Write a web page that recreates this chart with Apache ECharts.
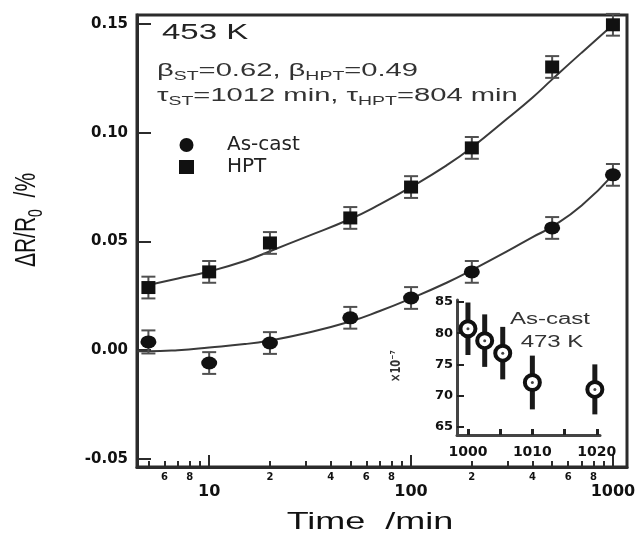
<!DOCTYPE html>
<html><head><meta charset="utf-8">
<script src="https://cdn.jsdelivr.net/npm/echarts@6/dist/echarts.min.js"></script>
<style>html,body{margin:0;padding:0;background:#fff}#c{width:642px;height:534px}</style>
</head><body><div id="c"></div>
<script>
// ---- main data (time in min, ΔR/R0 in %) ----
const times = [5, 10, 20, 50, 100, 200, 500, 1000];
const asCast = [0.0038, -0.0059, 0.0033, 0.0149, 0.0240, 0.0360, 0.0562, 0.0806];
const hpt = [0.0288, 0.0360, 0.0493, 0.0608, 0.0750, 0.0930, 0.1302, 0.1496];
const errAsCast = [0.0053, 0.0050, 0.0050, 0.0050, 0.0050, 0.0050, 0.0050, 0.0050];
const errHpt = [0.0050, 0.0050, 0.0050, 0.0050, 0.0050, 0.0050, 0.0050, 0.0050];
// fitted curves
const fitTimesAsCast = [4.4, 5, 7, 10, 15, 20, 30, 50, 70, 100, 150, 200, 300, 400, 500, 700, 1000];
const fitAsCast = [-0.0005, -0.0005, 0.0000, 0.0012, 0.0028, 0.0045, 0.0078, 0.0132, 0.0180, 0.0238, 0.0310, 0.0368, 0.0455, 0.0520, 0.0568, 0.0665, 0.0806];
const fitTimesHpt = [5, 7, 10, 15, 20, 30, 50, 70, 100, 150, 200, 300, 400, 500, 700, 1000];
const fitHpt = [0.0300, 0.0330, 0.0362, 0.0410, 0.0455, 0.0520, 0.0603, 0.0670, 0.0750, 0.0850, 0.0932, 0.1065, 0.1162, 0.1245, 0.1368, 0.1496];
// axis ticks / labels
const yTicks = [-0.05, 0.00, 0.05, 0.10, 0.15];
const xMinorTicks = [5, 6, 7, 8, 9, 20, 30, 40, 50, 60, 70, 80, 90, 200, 300, 400, 500, 600, 700, 800, 900];
const xMinorLabels = [6, 8, 20, 40, 60, 80, 200, 400, 600, 800];
const xMajor = [10, 100, 1000];
// ---- inset data ----
const insetX = [1000, 1002.6, 1005.4, 1010, 1019.7];
const insetY = [80.7, 78.8, 76.8, 72.1, 71.0];
const insetErr = [4.2, 4.2, 4.2, 4.3, 4.0];
const insetXTicks = [1000, 1005, 1010, 1015, 1020];
const insetXLabels = [1000, 1010, 1020];
const insetYTicks = [65, 70, 75, 80, 85];

const X_MIN = 4.39, X_MAX = 1174;
const lg = v => Math.log10(v);
const DARK = '#2b2b2b';
const labelFont = {fontFamily: 'DejaVu Sans', fontWeight: 'bold', color: '#111'};

const chart = echarts.init(document.getElementById('c'), null, {renderer: 'canvas'});

function errRender(capW, color, lw) {
  return function (params, api) {
    const x = api.value(0), lo = api.value(2), hi = api.value(3);
    const p1 = api.coord([x, lo]), p2 = api.coord([x, hi]);
    const ch = [{type: 'line', shape: {x1: p1[0], y1: p1[1], x2: p2[0], y2: p2[1]}, style: {stroke: color, lineWidth: lw}}];
    if (capW > 0) {
      ch.push({type: 'line', shape: {x1: p1[0] - capW, y1: p1[1], x2: p1[0] + capW, y2: p1[1]}, style: {stroke: color, lineWidth: 2}});
      ch.push({type: 'line', shape: {x1: p2[0] - capW, y1: p2[1], x2: p2[0] + capW, y2: p2[1]}, style: {stroke: color, lineWidth: 2}});
    }
    return {type: 'group', children: ch};
  };
}

const gridRect = {left: 137, top: 15, width: 490, height: 452};
const subRich = (fs, sfs, color) => ({
  m: {fontSize: fs, fontFamily: 'Liberation Sans', fill: color, lineHeight: fs + 6, verticalAlign: 'middle'},
  s: {fontSize: sfs, fontFamily: 'Liberation Sans', fill: color, lineHeight: sfs - 2, verticalAlign: 'bottom'}
});

const option = {
  backgroundColor: '#fff',
  animation: false,
  grid: [
    Object.assign({show: true, borderColor: DARK, borderWidth: 3, backgroundColor: 'transparent'}, gridRect),
    Object.assign({show: false}, gridRect),
    Object.assign({show: false}, gridRect),
    {left: 457, top: 300, width: 143, height: 135, show: false}
  ],
  xAxis: [
    {type: 'log', gridIndex: 0, min: X_MIN, max: X_MAX, logBase: 10,
     axisLine: {show: true, onZero: false, lineStyle: {color: DARK, width: 3}},
     axisTick: {show: false}, axisLabel: {show: false}, splitLine: {show: false}},
    {type: 'value', gridIndex: 1, min: lg(X_MIN), max: lg(X_MAX),
     axisLine: {show: false, onZero: false}, splitLine: {show: false},
     axisTick: {show: true, inside: true, length: 6, lineStyle: {color: DARK, width: 2}, customValues: xMinorTicks.map(lg)},
     axisLabel: Object.assign({show: true, margin: 5, fontSize: 10, customValues: xMinorLabels.map(lg),
       formatter: v => { const t = Math.round(Math.pow(10, v)); return String(t / Math.pow(10, Math.floor(Math.log10(t) + 1e-9))); }}, labelFont)},
    {type: 'value', gridIndex: 2, min: lg(X_MIN), max: lg(X_MAX),
     axisLine: {show: false, onZero: false}, splitLine: {show: false},
     axisTick: {show: true, inside: true, length: 12, lineStyle: {color: DARK, width: 2}, customValues: xMajor.map(lg)},
     axisLabel: Object.assign({show: true, margin: 17, fontSize: 16, customValues: xMajor.map(lg),
       formatter: v => String(Math.round(Math.pow(10, v)))}, labelFont)},
    {type: 'value', gridIndex: 3, min: 998.3, max: 1020.5,
     axisLine: {show: true, onZero: false, lineStyle: {color: '#444', width: 3}}, splitLine: {show: false},
     axisTick: {show: true, inside: true, length: 6, lineStyle: {color: '#222', width: 3}, customValues: insetXTicks},
     axisLabel: Object.assign({show: true, margin: 10, fontSize: 14, customValues: insetXLabels,
       formatter: v => String(Math.round(v))}, labelFont)}
  ],
  yAxis: [
    {type: 'value', gridIndex: 0, min: -0.0537, max: 0.1541,
     axisLine: {show: true, onZero: false, lineStyle: {color: DARK, width: 3}}, splitLine: {show: false},
     axisTick: {show: true, inside: true, length: 14, lineStyle: {color: DARK, width: 2}, customValues: yTicks},
     axisLabel: Object.assign({show: true, margin: 9, fontSize: 15, customValues: yTicks,
       formatter: v => v.toFixed(2)}, labelFont)},
    {type: 'value', gridIndex: 1, show: false},
    {type: 'value', gridIndex: 2, show: false},
    {type: 'value', gridIndex: 3, min: 63.7, max: 85.3,
     axisLine: {show: true, onZero: false, lineStyle: {color: '#444', width: 3}}, splitLine: {show: false},
     axisTick: {show: true, inside: true, length: 7, lineStyle: {color: '#222', width: 2}, customValues: insetYTicks},
     axisLabel: Object.assign({show: true, margin: 4, fontSize: 13, customValues: insetYTicks,
       formatter: v => String(Math.round(v))}, labelFont)}
  ],
  legend: {
    orient: 'vertical', left: 174, top: 130, itemWidth: 15, itemHeight: 14, itemGap: 2,
    data: [{name: 'As-cast', icon: 'circle'}, {name: 'HPT', icon: 'rect'}],
    formatter: name => '{p|}{t|' + name + '}',
    textStyle: {rich: {p: {width: 28}, t: {fontFamily: 'DejaVu Sans', fontSize: 20, color: '#222', lineHeight: 20}}},
    selectedMode: false
  },
  series: [
    {type: 'line', name: 'fit As-cast', xAxisIndex: 0, yAxisIndex: 0, showSymbol: false, smooth: true,
     data: fitTimesAsCast.map((t, i) => [t, fitAsCast[i]]), lineStyle: {color: '#3a3a3a', width: 2}, z: 2},
    {type: 'line', name: 'fit HPT', xAxisIndex: 0, yAxisIndex: 0, showSymbol: false, smooth: true,
     data: fitTimesHpt.map((t, i) => [t, fitHpt[i]]), lineStyle: {color: '#3a3a3a', width: 2}, z: 2},
    {type: 'custom', name: 'err As-cast', xAxisIndex: 0, yAxisIndex: 0, renderItem: errRender(7, '#505050', 2),
     data: times.map((t, i) => [t, asCast[i], asCast[i] - errAsCast[i], asCast[i] + errAsCast[i]]),
     encode: {x: 0, y: [1, 2, 3]}, z: 3},
    {type: 'custom', name: 'err HPT', xAxisIndex: 0, yAxisIndex: 0, renderItem: errRender(7, '#505050', 2),
     data: times.map((t, i) => [t, hpt[i], hpt[i] - errHpt[i], hpt[i] + errHpt[i]]),
     encode: {x: 0, y: [1, 2, 3]}, z: 3},
    {type: 'scatter', name: 'As-cast', xAxisIndex: 0, yAxisIndex: 0, symbol: 'circle', symbolSize: [16, 13],
     data: times.map((t, i) => [t, asCast[i]]), itemStyle: {color: '#111', opacity: 1}, z: 4},
    {type: 'scatter', name: 'HPT', xAxisIndex: 0, yAxisIndex: 0, symbol: 'rect', symbolSize: [14, 13],
     data: times.map((t, i) => [t, hpt[i]]), itemStyle: {color: '#111', opacity: 1}, z: 4},
    // inset
    {type: 'custom', name: 'inset err', xAxisIndex: 3, yAxisIndex: 3, renderItem: errRender(0, '#1a1a1a', 5),
     data: insetX.map((x, i) => [x, insetY[i], insetY[i] - insetErr[i], insetY[i] + insetErr[i]]),
     encode: {x: 0, y: [1, 2, 3]}, z: 3},
    {type: 'scatter', name: 'inset', xAxisIndex: 3, yAxisIndex: 3, symbol: 'circle', symbolSize: 15,
     data: insetX.map((x, i) => [x, insetY[i]]), itemStyle: {color: '#fff', borderColor: '#111', borderWidth: 4, opacity: 1}, z: 4},
    {type: 'scatter', name: 'inset dot', xAxisIndex: 3, yAxisIndex: 3, symbol: 'circle', symbolSize: 3,
     data: insetX.map((x, i) => [x, insetY[i]]), itemStyle: {color: '#444', opacity: 1}, z: 5}
  ],
  graphic: [
    {type: 'text', x: 162, y: 33, scaleX: 1.5, z: 10,
     style: {text: '453 K', font: '22px "Liberation Sans"', fill: '#222', verticalAlign: 'middle', align: 'left'}},
    {type: 'text', x: 157, y: 71, scaleX: 1.62, z: 10,
     style: {text: '{m|β}{s|ST}{m|=0.62, β}{s|HPT}{m|=0.49}', rich: subRich(18, 12, '#333'), verticalAlign: 'middle', align: 'left'}},
    {type: 'text', x: 157, y: 96, scaleX: 1.62, z: 10,
     style: {text: '{m|τ}{s|ST}{m|=1012 min, τ}{s|HPT}{m|=804 min}', rich: subRich(18, 12, '#333'), verticalAlign: 'middle', align: 'left'}},
    {type: 'text', x: 27, y: 220, rotation: Math.PI / 2, scaleY: 1.4, z: 10,
     style: {text: '{m|ΔR/R}{s|0}{m|  /%}', rich: subRich(21, 14, '#111'), verticalAlign: 'middle', align: 'center'}},
    {type: 'text', x: 370, y: 522, scaleX: 1.5, z: 10,
     style: {text: 'Time  /min', font: '24px "Liberation Sans"', fill: '#111', verticalAlign: 'middle', align: 'center'}},
    {type: 'text', x: 550, y: 320, scaleX: 1.5, z: 10,
     style: {text: 'As-cast', font: '16px "Liberation Sans"', fill: '#333', verticalAlign: 'middle', align: 'center'}},
    {type: 'text', x: 552, y: 343, scaleX: 1.5, z: 10,
     style: {text: '473 K', font: '16px "Liberation Sans"', fill: '#333', verticalAlign: 'middle', align: 'center'}},
    {type: 'text', x: 396, y: 366, rotation: Math.PI / 2, scaleY: 1.4, z: 10,
     style: {text: '×10⁻⁷', font: 'bold 10px "DejaVu Sans"', fill: '#333', verticalAlign: 'middle', align: 'center'}}
  ]
};
chart.setOption(option);
</script>
</body></html>
